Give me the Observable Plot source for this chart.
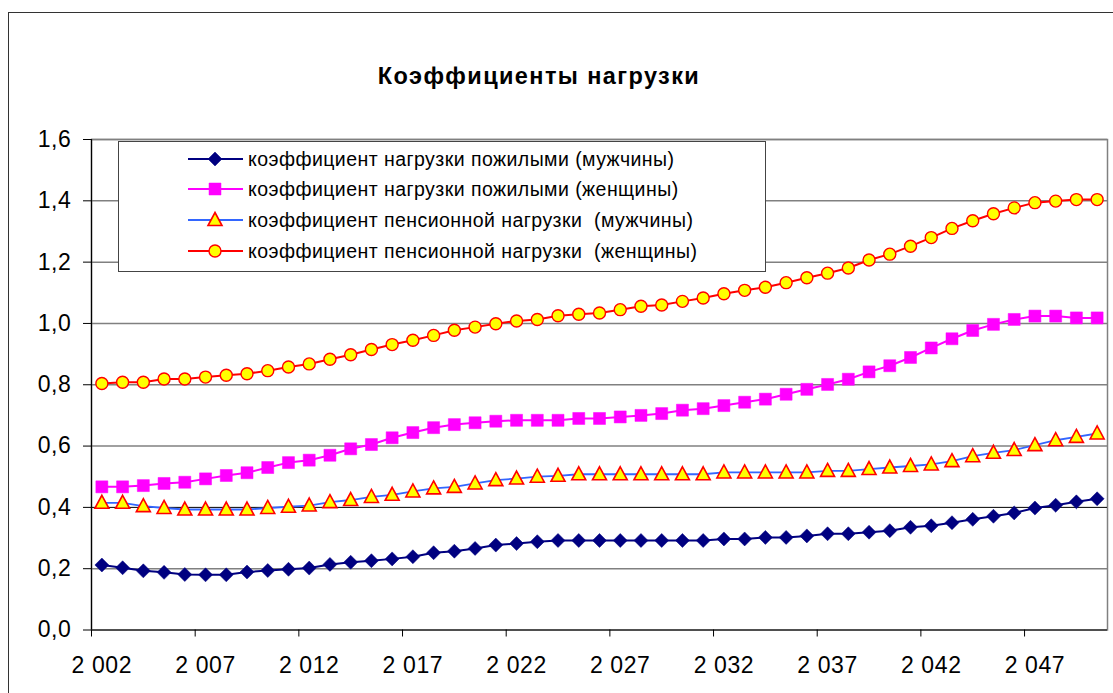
<!DOCTYPE html>
<html>
<head>
<meta charset="utf-8">
<script src="https://cdn.jsdelivr.net/npm/d3@7"></script>
<script src="https://cdn.jsdelivr.net/npm/@observablehq/plot@0.6"></script>
<style>
  html, body { margin: 0; padding: 0; background: #fff; }
  body { width: 1113px; height: 693px; overflow: hidden; position: relative; font-family: "Liberation Sans", Arial, sans-serif; }
  #chart { position: absolute; left: 0; top: 0; }
  #outer { position: absolute; left: 8px; top: 12px; width: 1200px; height: 800px; border-left: 1.5px solid #333; border-top: 1.5px solid #333; box-sizing: border-box; pointer-events: none; }
  #title { position: absolute; left: 0; width: 1078px; top: 63px; text-align: center; font-weight: bold; font-size: 23.5px; letter-spacing: 1.4px; color: #000; }
  #legend { position: absolute; left: 118px; top: 141px; width: 648px; height: 131px; border: 1px solid #444; background: #fff; box-sizing: border-box; }
  .row { position: absolute; left: 0; height: 22px; }
  .row svg { position: absolute; left: 69px; top: 1px; }
  .row span { position: absolute; left: 129px; top: 0; line-height: 22px; font-size: 19.5px; letter-spacing: 0.45px; white-space: pre; color: #000; }
</style>
</head>
<body>
<div id="chart"></div>
<div id="outer"></div>
<div id="title">Коэффициенты нагрузки</div>
<div id="legend"></div>
<script>
// ---- data ----
const years = [2002,2003,2004,2005,2006,2007,2008,2009,2010,2011,
               2012,2013,2014,2015,2016,2017,2018,2019,2020,2021,
               2022,2023,2024,2025,2026,2027,2028,2029,2030,2031,
               2032,2033,2034,2035,2036,2037,2038,2039,2040,2041,
               2042,2043,2044,2045,2046,2047,2048,2049,2050];
const xTickLabels = [2002,2007,2012,2017,2022,2027,2032,2037,2042,2047];
const yTicks = [0,0.2,0.4,0.6,0.8,1.0,1.2,1.4,1.6];

const elderlyMen = [0.212,0.203,0.193,0.188,0.181,0.180,0.180,0.189,0.194,0.198,
                    0.202,0.214,0.221,0.226,0.232,0.239,0.252,0.257,0.266,0.277,
                    0.282,0.288,0.292,0.292,0.292,0.292,0.292,0.292,0.292,0.292,
                    0.297,0.297,0.302,0.302,0.307,0.314,0.314,0.319,0.324,0.335,
                    0.340,0.350,0.361,0.371,0.382,0.398,0.407,0.418,0.428];
const elderlyWomen = [0.467,0.467,0.471,0.478,0.482,0.493,0.504,0.513,0.530,0.546,
                      0.554,0.570,0.591,0.605,0.627,0.644,0.660,0.670,0.676,0.681,
                      0.684,0.684,0.684,0.690,0.690,0.695,0.700,0.706,0.717,0.722,
                      0.732,0.743,0.753,0.769,0.785,0.801,0.818,0.842,0.862,0.889,
                      0.920,0.950,0.977,0.997,1.013,1.024,1.024,1.018,1.018];
const pensionMen = [0.415,0.415,0.404,0.398,0.393,0.393,0.393,0.393,0.398,0.402,
                    0.406,0.417,0.424,0.434,0.441,0.452,0.462,0.467,0.478,0.489,
                    0.494,0.500,0.503,0.508,0.508,0.508,0.508,0.508,0.508,0.508,
                    0.514,0.514,0.514,0.514,0.514,0.519,0.519,0.525,0.530,0.535,
                    0.540,0.551,0.567,0.578,0.587,0.603,0.619,0.630,0.641];
const pensionWomen = [0.804,0.808,0.808,0.819,0.819,0.825,0.831,0.836,0.846,0.858,
                      0.868,0.883,0.898,0.915,0.931,0.945,0.961,0.978,0.988,0.999,
                      1.008,1.013,1.025,1.030,1.034,1.045,1.056,1.060,1.072,1.083,
                      1.097,1.108,1.118,1.133,1.149,1.164,1.181,1.207,1.226,1.252,
                      1.280,1.310,1.335,1.358,1.377,1.394,1.399,1.404,1.404];

const seriesNames = [
  "коэффициент нагрузки пожилыми (мужчины)",
  "коэффициент нагрузки пожилыми (женщины)",
  "коэффициент пенсионной нагрузки  (мужчины)",
  "коэффициент пенсионной нагрузки  (женщины)"
];

// ---- symbols ----
const diamondSym = {draw(ctx) { const s = 7; ctx.moveTo(0,-s); ctx.lineTo(s,0); ctx.lineTo(0,s); ctx.lineTo(-s,0); ctx.closePath(); }};
const squareSym  = {draw(ctx) { const s = 6; ctx.moveTo(-s,-s); ctx.lineTo(s,-s); ctx.lineTo(s,s); ctx.lineTo(-s,s); ctx.closePath(); }};
const triSym     = {draw(ctx) { ctx.moveTo(0,-7.5); ctx.lineTo(7,5.5); ctx.lineTo(-7,5.5); ctx.closePath(); }};
const circSym    = {draw(ctx) { ctx.moveTo(6,0); ctx.arc(0,0,6,0,2*Math.PI); ctx.closePath(); }};

const styles = [
  {line: "#000080", lw: 2,   sym: diamondSym, fill: "#000080", stroke: "#000080", sw: 0.5},
  {line: "#FF00FF", lw: 2,   sym: squareSym,  fill: "#FF00FF", stroke: "#FF00FF", sw: 0.5},
  {line: "#3366FF", lw: 1.8, sym: triSym,     fill: "#FFFF00", stroke: "#FF0000", sw: 1.6},
  {line: "#FF0000", lw: 2,   sym: circSym,    fill: "#FFFF00", stroke: "#FF0000", sw: 1.4}
];
const allSeries = [elderlyMen, elderlyWomen, pensionMen, pensionWomen];
const tables = allSeries.map(vals => years.map((year, i) => ({year, v: vals[i]})));

const fmtYear = d => String(d).replace(/^(\d)(\d{3})$/, "$1 $2");
const fmtY = d => d.toFixed(1).replace(".", ",");
const tickBounds = xTickLabels.map(y => y - 0.5);

const marks = [
  Plot.frame({stroke: "#808080", strokeWidth: 1.5}),
  Plot.ruleY(yTicks.filter(d => d > 0), {stroke: d => d === 0.4 ? "#000" : "#808080", strokeWidth: d => d === 0.4 ? 1 : 1.5}),
  Plot.ruleX([2001.5], {stroke: "#000", strokeWidth: 1.2}),
  Plot.ruleY([0], {stroke: "#000", strokeWidth: 1.2}),
  Plot.axisY({ticks: yTicks, tickFormat: fmtY, tickSize: 8, tickPadding: 12, fontSize: 23, label: null, stroke: "#000"}),
  Plot.axisX({ticks: tickBounds, tickSize: 7, tickFormat: () => "", label: null, stroke: "#000"}),
  Plot.axisX({ticks: xTickLabels, tickSize: 0, tickPadding: 27, tickFormat: fmtYear, fontSize: 23, label: null})
];
tables.forEach((t, k) => {
  const s = styles[k];
  marks.push(Plot.line(t, {x: "year", y: "v", stroke: s.line, strokeWidth: s.lw}));
  marks.push(Plot.dot(t, {x: "year", y: "v", symbol: s.sym, r: 6, fill: s.fill, stroke: s.stroke, strokeWidth: s.sw}));
});

const chart = Plot.plot({
  width: 1113,
  height: 693,
  marginLeft: 91,
  marginRight: 6,
  marginTop: 139,
  marginBottom: 63.5,
  style: {fontFamily: "'Liberation Sans', Arial, sans-serif", fontSize: "23px", letterSpacing: "0.6px", color: "#000", background: "transparent"},
  x: {type: "linear", domain: [2001.5, 2050.5]},
  y: {domain: [0, 1.6]},
  marks
});
document.getElementById("chart").appendChild(chart);

// ---- legend ----
const legend = document.getElementById("legend");
const rowTops = [6, 36, 67, 98];
const symPaths = [
  "M0,-7L7,0L0,7L-7,0Z",
  "M-6,-6L6,-6L6,6L-6,6Z",
  "M0,-7.5L7,5.5L-7,5.5Z",
  "M6,0A6,6 0 1,1 -6,0A6,6 0 1,1 6,0Z"
];
seriesNames.forEach((name, k) => {
  const s = styles[k];
  const row = document.createElement("div");
  row.className = "row";
  row.style.top = rowTops[k] + "px";
  row.innerHTML =
    `<svg width="56" height="20" viewBox="0 -10 56 20">
       <line x1="0" x2="55" y1="0" y2="0" stroke="${s.line}" stroke-width="${s.lw}"/>
       <path transform="translate(27,0)" d="${symPaths[k]}" fill="${s.fill}" stroke="${s.stroke}" stroke-width="${s.sw}"/>
     </svg><span></span>`;
  row.querySelector("span").textContent = name;
  legend.appendChild(row);
});
</script>
</body>
</html>
